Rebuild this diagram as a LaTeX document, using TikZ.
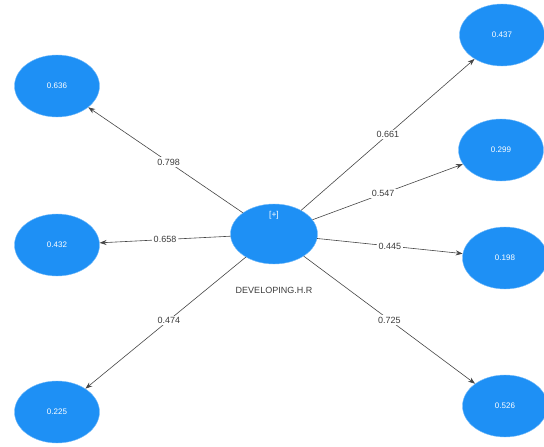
\documentclass[tikz,border=0pt]{standalone}
\usepackage{fontspec}
\setmainfont{Liberation Sans}
\usetikzlibrary{shapes.geometric,arrows.meta}
\definecolor{nodeblue}{RGB}{30,144,245}
\definecolor{linegray}{RGB}{70,70,70}
\definecolor{labgray}{RGB}{60,60,60}
\tikzset{
  ind/.style={ellipse,fill=nodeblue,draw=nodeblue!60,line width=0.4pt,minimum width=85pt,minimum height=62pt,inner sep=0pt,text=white,font=\fontsize{8}{9}\selectfont},
  lv/.style={ellipse,fill=nodeblue,draw=nodeblue!60,line width=0.4pt,minimum width=87pt,minimum height=60pt,inner sep=0pt},
  conn/.style={draw=linegray,line width=0.6pt,-{Stealth[length=7pt,width=5pt]}},
  wlab/.style={fill=white,inner sep=1.5pt,text=labgray,font=\fontsize{9}{10}\selectfont}
}
\begin{document}
\begin{tikzpicture}[x=1pt,y=-1pt]
\useasboundingbox (0,0) rectangle (544,447);
\node[lv] (c) at (274,234) {};
\node[text=white,font=\fontsize{8.5}{10}\selectfont] (cl) at (274,215) {[+]};
\node[text=labgray,font=\fontsize{9}{10}\selectfont] (cn) at (274,290) {DEVELOPING.H.R};
\node[ind] (a) at (57,86) {0.636};
\node[ind] (b) at (57,245) {0.432};
\node[ind] (d) at (57,412) {0.225};
\node[ind] (e) at (502,35) {0.437};
\node[ind] (f) at (501,150) {0.299};
\node[ind] (g) at (505,258) {0.198};
\node[ind] (h) at (505,406) {0.526};
\draw[conn] (c) -- node[wlab,pos=0.48]{0.798} (a);
\draw[conn] (c) -- node[wlab,pos=0.5]{0.658} (b);
\draw[conn] (c) -- node[wlab,pos=0.48]{0.474} (d);
\draw[conn] (c) -- node[wlab,pos=0.5]{0.661} (e);
\draw[conn] (c) -- node[wlab,pos=0.47]{0.547} (f);
\draw[conn] (c) -- node[wlab,pos=0.5]{0.445} (g);
\draw[conn] (c) -- node[wlab,pos=0.5]{0.725} (h);
\end{tikzpicture}
\end{document}
